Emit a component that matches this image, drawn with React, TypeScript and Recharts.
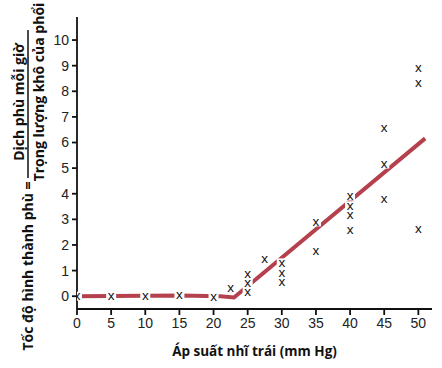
import React from 'react';
import {
  ComposedChart,
  Line,
  Scatter,
  XAxis,
  YAxis,
} from 'recharts';

// left atrial pressure (mm Hg) vs measured edema rate
const pressure = [0, 5, 10, 15, 20, 22.5, 25, 25, 25, 27.5, 30, 30, 30, 35, 35, 40, 40, 40, 40, 45, 45, 45, 50, 50, 50];
const edemaRate = [0, 0, 0, 0.05, -0.03, 0.32, 0.86, 0.52, 0.18, 1.47, 1.3, 0.92, 0.56, 2.9, 1.77, 3.91, 3.53, 3.16, 2.58, 6.55, 5.16, 3.78, 8.89, 8.31, 2.63];

// fitted trend line
const trendX = [0, 15, 21, 23, 51];
const trendY = [0, 0.03, 0, -0.05, 6.16];

const xTicks = [0, 5, 10, 15, 20, 25, 30, 35, 40, 45, 50];
const yTicks = [0, 1, 2, 3, 4, 5, 6, 7, 8, 9, 10];

const points = pressure.map((x, i) => ({ x, y: edemaRate[i] }));
const trend = trendX.map((x, i) => ({ x, y: trendY[i] }));

const LABEL_FONT = '"Open Sans", sans-serif';
const TICK_FONT = '"Liberation Sans", Arial, sans-serif';

const XMark = (props: any) => {
  const { cx, cy } = props;
  return (
    <g>
      <rect x={cx - 5} y={cy - 4.5} width={10} height={9} fill="#fff" />
      <text
        x={cx}
        y={cy + 4}
        textAnchor="middle"
        fontSize={13.5}
        fontFamily={TICK_FONT}
        fill="#111"
      >
        x
      </text>
    </g>
  );
};

const YLabel = () => (
  <g fontFamily={LABEL_FONT} fontWeight={700} fontSize={14} fill="#111">
    <text
      transform="translate(27, 266) rotate(-90)"
      textAnchor="middle"
      dominantBaseline="central"
    >
      Tốc độ hình thành phù =
    </text>
    <text
      transform="translate(18, 102) rotate(-90)"
      textAnchor="middle"
      dominantBaseline="central"
    >
      Dịch phù mỗi giờ
    </text>
    <line x1={28} y1={30} x2={28} y2={178} stroke="#111" strokeWidth={1.5} />
    <text
      transform="translate(38, 92) rotate(-90)"
      textAnchor="middle"
      dominantBaseline="central"
    >
      Trọng lượng khô của phổi
    </text>
  </g>
);

export default function App() {
  return (
    <div style={{ position: 'absolute', left: 0, top: 0, background: '#fff' }}>
      <ComposedChart
        width={442}
        height={368}
        margin={{ top: 17, right: 10, left: 0, bottom: 0 }}
      >
        <XAxis
          type="number"
          dataKey="x"
          domain={[0, 52]}
          ticks={xTicks}
          allowDataOverflow
          height={59}
          stroke="#111"
          strokeWidth={1.8}
          tickSize={6}
          tickMargin={3}
          tick={{ fontSize: 14, fill: '#222', fontFamily: TICK_FONT }}
          label={{
            value: 'Áp suất nhĩ trái (mm Hg)',
            position: 'insideBottom',
            offset: 12,
            style: {
              fontFamily: LABEL_FONT,
              fontWeight: 700,
              fontSize: 13.5,
              fill: '#111',
            },
          }}
        />
        <YAxis
          type="number"
          dataKey="y"
          domain={[-0.5, 10.9]}
          ticks={yTicks}
          allowDataOverflow
          width={77}
          stroke="#111"
          strokeWidth={1.8}
          tickSize={5}
          tickMargin={3}
          tick={{ fontSize: 14, fill: '#222', fontFamily: TICK_FONT }}
          label={{ content: () => <YLabel /> }}
        />
        <Line
          data={trend}
          dataKey="y"
          type="linear"
          stroke="#b5414f"
          strokeWidth={4}
          dot={false}
          isAnimationActive={false}
        />
        <Scatter
          data={points}
          dataKey="y"
          shape={XMark}
          isAnimationActive={false}
        />
      </ComposedChart>
    </div>
  );
}
